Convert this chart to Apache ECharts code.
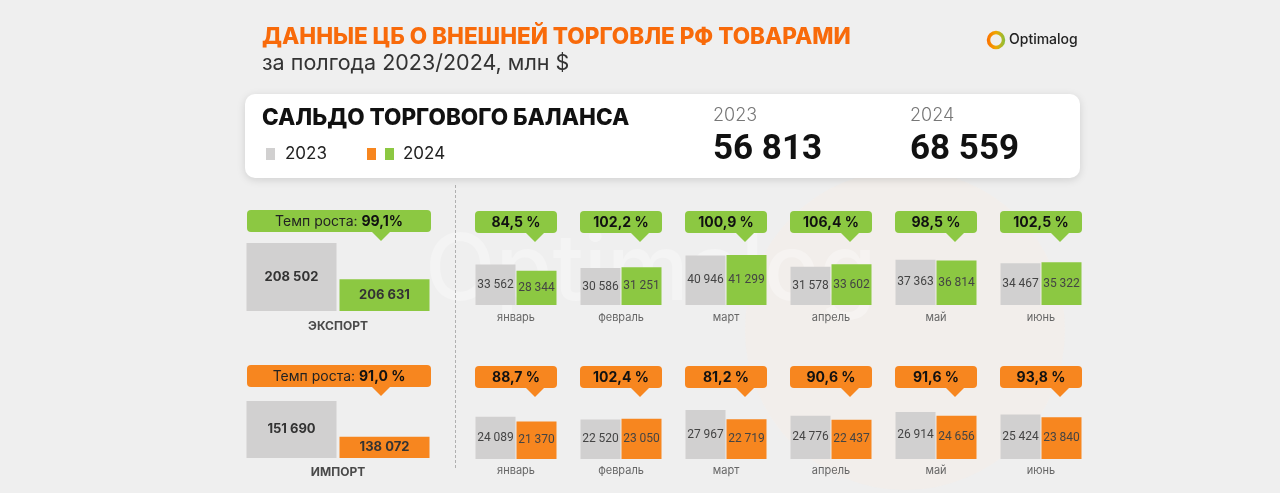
<!DOCTYPE html>
<html>
<head>
<meta charset="utf-8">
<script src="https://cdn.jsdelivr.net/npm/echarts/dist/echarts.min.js"></script>
<style>
html, body { margin: 0; padding: 0; background: #efefef; }
#chart { width: 1280px; height: 493px; }
</style>
</head>
<body>
<div id="chart"></div>
<script>
// данные
var years = ['2023', '2024']
var months = ['январь', 'февраль', 'март', 'апрель', 'май', 'июнь']
var export2023 = [33562, 30586, 40946, 31578, 37363, 34467]
var export2024 = [28344, 31251, 41299, 33602, 36814, 35322]
var import2023 = [24089, 22520, 27967, 24776, 26914, 25424]
var import2024 = [21370, 23050, 22719, 22437, 24656, 23840]
var exportGrowth = [84.5, 102.2, 100.9, 106.4, 98.5, 102.5]
var importGrowth = [88.7, 102.4, 81.2, 90.6, 91.6, 93.8]
var totalExport = [208502, 206631]
var totalImport = [151690, 138072]
var totalGrowth = [99.1, 91.0]
var balance = [56813, 68559]

var GREY = '#d1d0d0'
var GREEN = '#8cc842'
var ORANGE = '#f7861f'
var FONT = 'Inter, "Noto Sans", sans-serif'

function fmt(n) {
  return String(n).replace(/\B(?=(\d{3})+(?!\d))/g, ' ')
}
function pct(v, space) {
  return v.toFixed(1).replace('.', ',') + (space ? ' %' : '%')
}

var chart = echarts.init(document.getElementById('chart'))
var grids = [], xAxes = [], yAxes = [], series = [], graphics = []

function addPanel(box, values, color, min, max, name, barW, big, nameGap) {
  var i = grids.length
  grids.push({ left: box.x, top: box.y, width: box.w, height: box.h })
  xAxes.push({
    type: 'category', gridIndex: i, data: years,
    axisLine: { show: false }, axisTick: { show: false }, axisLabel: { show: false },
    name: name, nameLocation: 'middle', nameGap: nameGap,
    nameTextStyle: big
      ? { fontFamily: FONT, fontSize: 12, fontWeight: 700, color: '#4a4a4a' }
      : { fontFamily: FONT, fontSize: 11, color: '#666' }
  })
  yAxes.push({ type: 'value', gridIndex: i, min: min, max: max, show: false })
  series.push({
    type: 'bar', xAxisIndex: i, yAxisIndex: i, barWidth: barW, silent: true,
    data: [
      { value: values[0], itemStyle: { color: GREY } },
      { value: values[1], itemStyle: { color: color } }
    ],
    label: {
      show: true, position: 'inside',
      formatter: function (p) { return fmt(p.value) },
      fontFamily: big ? FONT : 'Roboto, sans-serif',
      fontSize: big ? 13 : 12,
      fontWeight: big ? 700 : 400,
      color: big ? '#333' : '#444'
    }
  })
}

function bubble(x, y, w, h, tipX, color, style) {
  return {
    type: 'group', z: 10,
    children: [
      { type: 'rect', shape: { x: x, y: y, width: w, height: h, r: 4 }, style: { fill: color } },
      { type: 'polygon', shape: { points: [[tipX - 10, y + h - 1], [tipX + 10, y + h - 1], [tipX, y + h + 9]] }, style: { fill: color } },
      {
        type: 'text', x: x + w / 2, y: y + h / 2 + 1,
        style: Object.assign({ align: 'center', verticalAlign: 'middle', textAlign: 'center', textVerticalAlign: 'middle' }, style)
      }
    ]
  }
}

// левые итоговые панели
var leftX = 245, leftW = 186
addPanel({ x: leftX, y: 243, w: leftW, h: 68 }, totalExport, GREEN, 205000, totalExport[0], 'ЭКСПОРТ', 90, true, 9)
addPanel({ x: leftX, y: 401, w: leftW, h: 57 }, totalImport, ORANGE, 130000, totalImport[0], 'ИМПОРТ', 90, true, 8)

function growthText(v, space) {
  return {
    text: '{a|Темп роста: }{b|' + pct(v, space) + '}',
    rich: {
      a: { fontFamily: FONT, fontSize: 14, fontWeight: 400, fill: '#222' },
      b: { fontFamily: FONT, fontSize: 14, fontWeight: 700, fill: '#111' }
    }
  }
}
graphics.push(bubble(247, 210, 184, 22, 381, GREEN, growthText(totalGrowth[0], false)))
graphics.push(bubble(247, 365, 184, 22, 381, ORANGE, growthText(totalGrowth[1], true)))

// помесячные панели
var colX0 = 475, pitch = 105, colW = 82
months.forEach(function (m, k) {
  var x = colX0 + pitch * k
  addPanel({ x: x, y: 245, w: colW, h: 60 }, [export2023[k], export2024[k]], GREEN, 0, 49600, m, 40, false, 7)
  addPanel({ x: x, y: 399, w: colW, h: 60 }, [import2023[k], import2024[k]], ORANGE, 0, 34300, m, 40, false, 6)
  var st = { fontFamily: FONT, fontSize: 14, fontWeight: 700, fill: '#111' }
  graphics.push(bubble(x, 211, colW, 22, x + 60, GREEN, Object.assign({ text: pct(exportGrowth[k], true) }, st)))
  graphics.push(bubble(x, 366, colW, 22, x + 60, ORANGE, Object.assign({ text: pct(importGrowth[k], true) }, st)))
})

// фон, водяной знак
graphics.unshift(
  { type: 'circle', z: -20, shape: { cx: 905, cy: 330, r: 160 }, style: { fill: 'rgba(250,238,228,0.28)' } },
  { type: 'text', z: -10, x: 425, y: 272, style: { text: 'Optimalog', fontFamily: FONT, fontSize: 92, fontWeight: 500, fill: 'rgba(255,255,255,0.3)', verticalAlign: 'middle' } }
)

// заголовок и логотип
graphics.push(
  { type: 'text', x: 262, y: 37, style: { text: 'ДАННЫЕ ЦБ О ВНЕШНЕЙ ТОРГОВЛЕ РФ ТОВАРАМИ', fontFamily: FONT, fontSize: 22.5, fontWeight: 800, fill: '#f86a0a', verticalAlign: 'middle' } },
  { type: 'text', x: 262, y: 64, style: { text: 'за полгода 2023/2024, млн $', fontFamily: FONT, fontSize: 21.5, fontWeight: 400, fill: '#333', verticalAlign: 'middle' } },
  {
    type: 'circle', shape: { cx: 996, cy: 40, r: 7.5 },
    style: {
      fill: 'none', lineWidth: 3.5,
      stroke: new echarts.graphic.LinearGradient(0, 0, 1, 0, [
        { offset: 0, color: '#ff6a00' }, { offset: 0.5, color: '#f0a800' }, { offset: 1, color: '#7cc242' }
      ])
    }
  },
  { type: 'text', x: 1009, y: 40, style: { text: 'Optimalog', fontFamily: FONT, fontSize: 14, fontWeight: 500, fill: '#222', verticalAlign: 'middle' } }
)

// блок сальдо
graphics.push(
  { type: 'rect', shape: { x: 245, y: 94, width: 835, height: 84, r: 10 }, style: { fill: '#fff', shadowBlur: 8, shadowColor: 'rgba(0,0,0,0.13)', shadowOffsetY: 2 } },
  { type: 'text', x: 262, y: 118, style: { text: 'САЛЬДО ТОРГОВОГО БАЛАНСА', fontFamily: FONT, fontSize: 22.5, fontWeight: 800, fill: '#111', verticalAlign: 'middle' } },
  { type: 'rect', shape: { x: 266, y: 148, width: 9, height: 12 }, style: { fill: GREY } },
  { type: 'text', x: 285, y: 154, style: { text: years[0], fontFamily: FONT, fontSize: 17, fill: '#222', verticalAlign: 'middle' } },
  { type: 'rect', shape: { x: 367, y: 148, width: 9, height: 12 }, style: { fill: ORANGE } },
  { type: 'rect', shape: { x: 385, y: 148, width: 9, height: 12 }, style: { fill: GREEN } },
  { type: 'text', x: 403, y: 154, style: { text: years[1], fontFamily: FONT, fontSize: 17, fill: '#222', verticalAlign: 'middle' } }
)
balance.forEach(function (b, k) {
  var x = k === 0 ? 713 : 910
  graphics.push(
    { type: 'text', x: x, y: 116, style: { text: years[k], fontFamily: FONT, fontSize: 18, fontWeight: 300, fill: '#777', verticalAlign: 'middle' } },
    { type: 'text', x: x, y: 150, style: { text: fmt(b), fontFamily: 'Roboto, sans-serif', fontSize: 35, fontWeight: 700, fill: '#111', verticalAlign: 'middle' } }
  )
})

// разделитель
graphics.push({ type: 'line', shape: { x1: 455.5, y1: 185, x2: 455.5, y2: 468 }, style: { stroke: '#b0b0b0', lineWidth: 1, lineDash: [3, 2] } })

var option = {
  backgroundColor: '#efefef',
  animation: false,
  grid: grids,
  xAxis: xAxes,
  yAxis: yAxes,
  series: series,
  graphic: { elements: graphics }
}
chart.setOption(option)
</script>
</body>
</html>
